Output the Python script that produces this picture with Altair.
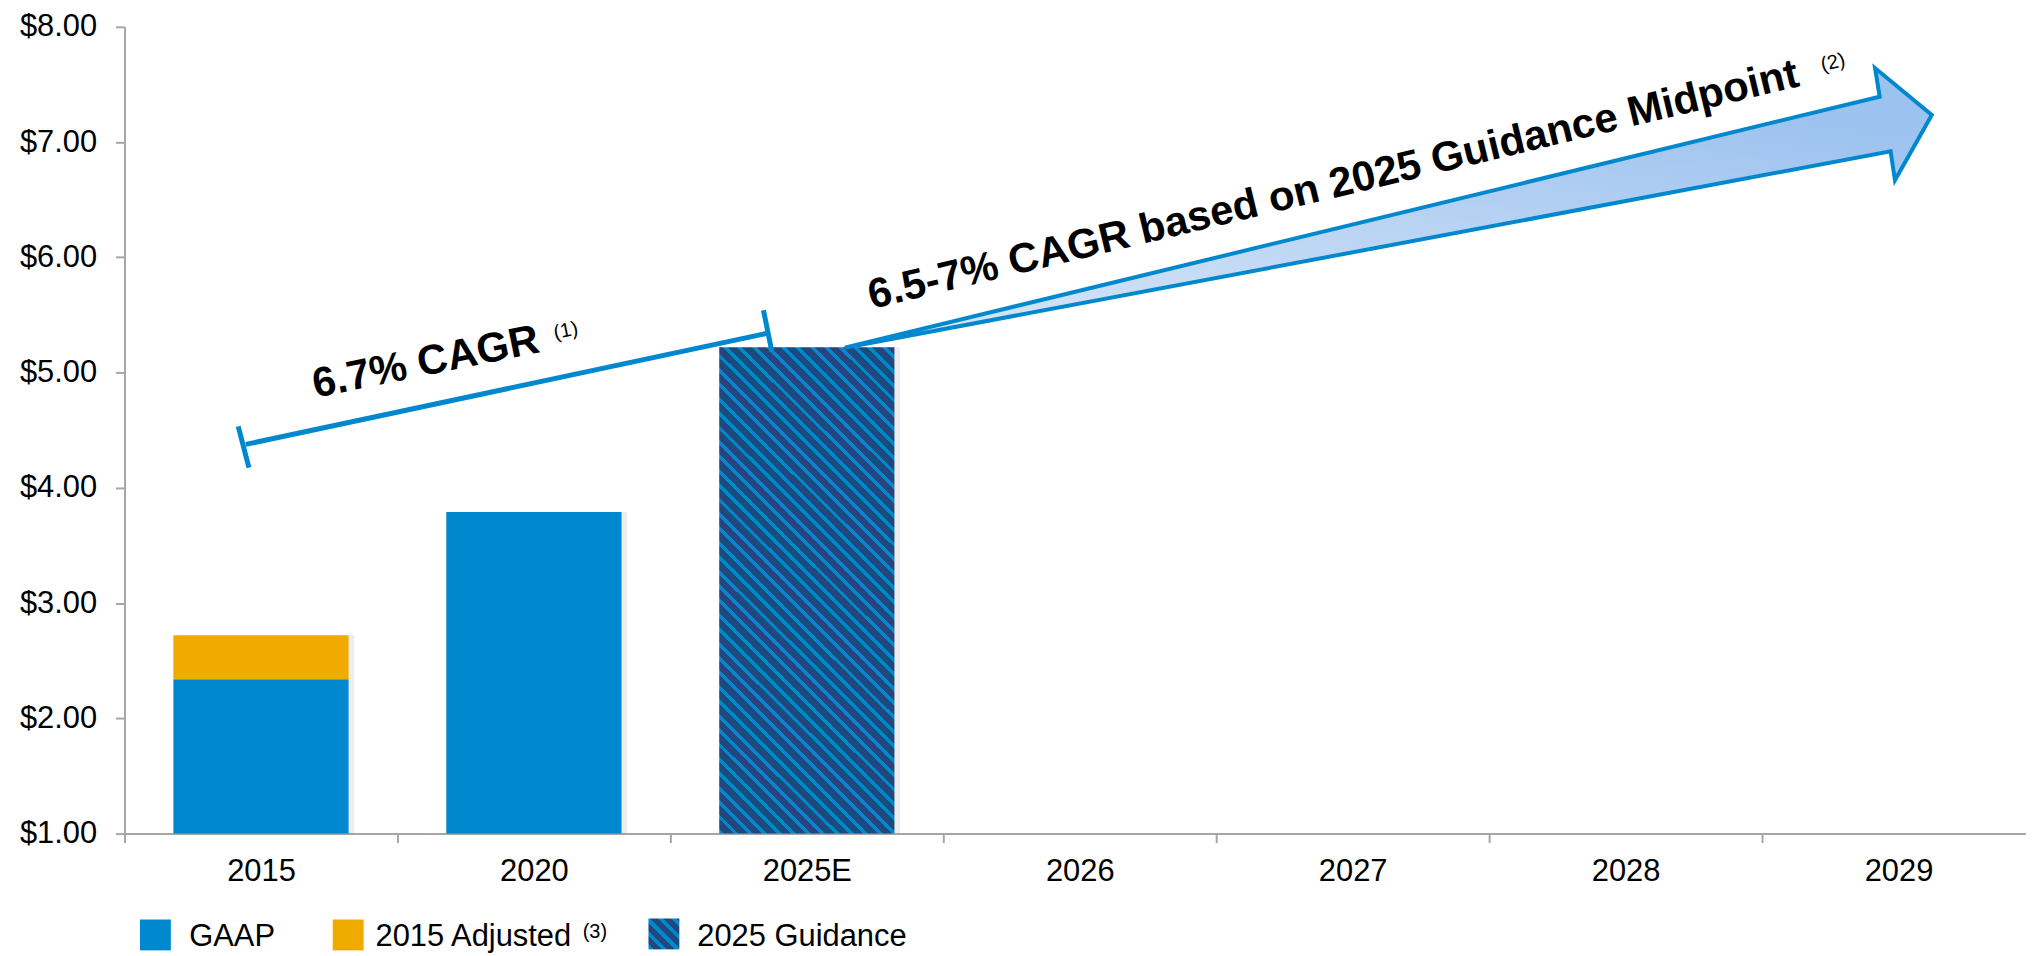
import altair as alt
import pandas as pd

# ---------------- data ----------------
years = ["2015", "2020", "2025E", "2026", "2027", "2028", "2029"]
series_names = ["GAAP", "2015 Adjusted", "2025 Guidance"]
gaap_years = ["2015", "2020"]
gaap_eps = [2.34, 3.79]
adjusted_year = "2015"
adjusted_eps = 2.72
guidance_year = "2025E"
guidance_eps = 5.22
axis_floor = 1.0
y_ticks = [1, 2, 3, 4, 5, 6, 7, 8]

# annotation geometry in data units (u = category index along x, v = $ on y)
bracket_u = [0.4445, 2.351]
bracket_v = [4.377, 5.339]
cap_u = [0.4165, 2.341]
cap_u2 = [0.4558, 2.372]
cap_v = [4.534, 5.541]
cap_v2 = [4.175, 5.181]

arrow_u = [2.639, 6.431, 6.414, 6.622, 6.487, 6.471, 2.639]
arrow_v = [5.216, 7.394, 7.642, 7.235, 6.668, 6.920, 5.216]

big_texts = ["6.7% CAGR", "6.5-7% CAGR based on 2025 Guidance Midpoint"]
big_u = [1.113, 4.440]
big_v = [4.98, 6.520]
big_angle = [348.5, 346.5]
note_texts = ["(1)", "(2)"]
note_u = [1.617, 6.260]
note_v = [5.362, 7.690]

legend_sq_u = [0.1131, 0.8194, 1.9763]
legend_sq_v = [0.1207, 0.1207, 0.1293]
legend_txt = ["GAAP", "2015 Adjusted", "2025 Guidance"]
legend_txt_u = [0.2372, 0.9197, 2.0985]
legend_txt_v = [0.0259, 0.0259, 0.0259]
legend_note = "(3)"
legend_note_u = 1.6788
legend_note_v = 0.0948

# ---------------- styling ----------------
BLUE = "#0088CE"
ORANGE = "#F0AB00"
NAVY = "#1F497D"
GRAY = "#A6A6A6"
FONT = "Liberation Sans"
X_RANGE = [0, 1918]


def hatch(w, h, period=14.5, light_frac=0.34):
    r = w / h
    k = (1 + r) / (1 + r * r)
    total = w + h
    dt = period / total
    stops = []
    t = 0.0
    while t < 1.0:
        b = min(t + dt * light_frac, 1.0)
        c = min(t + dt, 1.0)
        stops += [
            alt.GradientStop(offset=t, color=BLUE),
            alt.GradientStop(offset=b, color=BLUE),
            alt.GradientStop(offset=b, color=NAVY),
            alt.GradientStop(offset=c, color=NAVY),
        ]
        t += dt
    return alt.LinearGradient(gradient="linear", stops=stops,
                              x1=0, y1=1, x2=k * r, y2=1 - k)


y_scale = alt.Scale(domain=[1, 8], nice=False, zero=False)
y_axis = alt.Axis(values=y_ticks, format="$.2f", title=None, grid=False,
                  tickSize=9, tickWidth=2, tickColor=GRAY,
                  domainWidth=2, domainColor=GRAY,
                  labelFont=FONT, labelFontSize=31, labelColor="black",
                  labelPadding=19, labelFlush=False, labelOverlap=False)
u_scale = alt.Scale(domain=[0, 7], range=X_RANGE, nice=False, zero=False)


def ux(field="u"):
    return alt.X(f"{field}:Q", scale=u_scale, axis=None)


def vy(field="v"):
    return alt.Y(f"{field}:Q", scale=y_scale, axis=y_axis)


# ---------------- bars ----------------
bar_rows = []
for yr, val in zip(gaap_years, gaap_eps):
    bar_rows.append({"year": yr, "series": "GAAP", "lo": axis_floor, "hi": val})
bar_rows.append({"year": adjusted_year, "series": "2015 Adjusted",
                 "lo": gaap_eps[gaap_years.index(adjusted_year)], "hi": adjusted_eps})
bars_df = pd.DataFrame(bar_rows)
guid_df = pd.DataFrame([{"year": guidance_year, "series": "2025 Guidance",
                         "lo": axis_floor, "hi": guidance_eps}])

x_enc = alt.X("year:N",
              scale=alt.Scale(domain=years, range=X_RANGE, paddingInner=0, paddingOuter=0),
              axis=alt.Axis(title=None, tickBand="extent", tickSize=9, tickWidth=2,
                            tickColor=GRAY, domainColor=GRAY, domainWidth=2,
                            labelFont=FONT, labelFontSize=31, labelColor="black",
                            labelAngle=0, labelPadding=14, grid=False))
color_scale = alt.Scale(domain=["GAAP", "2015 Adjusted"], range=[BLUE, ORANGE])

# faint shadow behind the bars
shadow_df = pd.concat([bars_df, guid_df], ignore_index=True)
shadow = alt.Chart(shadow_df).mark_bar(width=alt.RelativeBandSize(0.662), xOffset=3,
                                       color="#000000", opacity=0.07).encode(
    x=x_enc,
    y=alt.Y("hi:Q", scale=y_scale, axis=y_axis),
    y2="lo:Q",
)

bars = alt.Chart(bars_df).mark_bar(width=alt.RelativeBandSize(0.642)).encode(
    x=x_enc,
    y=alt.Y("hi:Q", scale=y_scale, axis=y_axis),
    y2="lo:Q",
    color=alt.Color("series:N", scale=color_scale, legend=None),
)
guid_bar = alt.Chart(guid_df).mark_bar(width=alt.RelativeBandSize(0.642),
                                       fill=hatch(176, 489.5)).encode(
    x=x_enc,
    y=alt.Y("hi:Q", scale=y_scale, axis=y_axis),
    y2="lo:Q",
)
main = alt.layer(shadow, bars, guid_bar)

# ---------------- annotations ----------------
bracket_df = pd.DataFrame({"u": [bracket_u[0]] + cap_u, "v": [bracket_v[0]] + cap_v,
                           "u2": [bracket_u[1]] + cap_u2, "v2": [bracket_v[1]] + cap_v2})
bracket = alt.Chart(bracket_df).mark_rule(color=BLUE, strokeWidth=5, strokeCap="butt").encode(
    x=ux(), y=vy(), x2="u2:Q", y2="v2:Q")

arrow_df = pd.DataFrame({"u": arrow_u, "v": arrow_v, "i": list(range(len(arrow_u)))})
arrow_fill = alt.LinearGradient(gradient="linear", x1=0, y1=1, x2=0.6, y2=0,
                                stops=[alt.GradientStop(offset=0, color="#DCE8F8"),
                                       alt.GradientStop(offset=1, color="#9CC2EF")])
arrow = alt.Chart(arrow_df).mark_line(fill=arrow_fill, stroke=BLUE, strokeWidth=4,
                                      strokeJoin="miter", strokeMiterLimit=10).encode(
    x=ux(), y=vy(), order="i:Q")

big_df = pd.DataFrame({"t": big_texts, "u": big_u, "v": big_v, "a": big_angle})
big = alt.Chart(big_df).mark_text(font=FONT, fontSize=42, fontWeight="bold", color="black",
                                  align="center", baseline="alphabetic").encode(
    x=ux(), y=vy(), text="t:N", angle=alt.Angle("a:Q", scale=None))

note_df = pd.DataFrame({"t": note_texts, "u": note_u, "v": note_v, "a": big_angle})
notes = alt.Chart(note_df).mark_text(font=FONT, fontSize=20, color="black",
                                     align="center", baseline="middle").encode(
    x=ux(), y=vy(), text="t:N", angle=alt.Angle("a:Q", scale=None))

# legend
leg_sq_df = pd.DataFrame({"series": series_names[:2], "u": legend_sq_u[:2], "v": legend_sq_v[:2]})
leg_sq = alt.Chart(leg_sq_df).mark_square(size=961, opacity=1, filled=True).encode(
    x=ux(), y=vy(), color=alt.Color("series:N", scale=color_scale, legend=None))
leg_hatch_df = pd.DataFrame({"u": legend_sq_u[2:], "v": legend_sq_v[2:]})
leg_hatch = alt.Chart(leg_hatch_df).mark_square(size=961, opacity=1, filled=True,
                                                fill=hatch(31, 31, period=13.5, light_frac=0.38)).encode(
    x=ux(), y=vy())
leg_txt_df = pd.DataFrame({"t": legend_txt, "u": legend_txt_u, "v": legend_txt_v})
leg_txt = alt.Chart(leg_txt_df).mark_text(font=FONT, fontSize=31, color="black",
                                          align="left", baseline="alphabetic").encode(
    x=ux(), y=vy(), text="t:N")
leg_note_df = pd.DataFrame({"t": [legend_note], "u": [legend_note_u], "v": [legend_note_v]})
leg_note = alt.Chart(leg_note_df).mark_text(font=FONT, fontSize=20, color="black",
                                            align="left", baseline="alphabetic").encode(
    x=ux(), y=vy(), text="t:N")

annotations = alt.layer(bracket, arrow, big, notes, leg_sq, leg_hatch, leg_txt, leg_note)

chart = alt.layer(main, annotations).resolve_scale(x="independent", color="shared").properties(
    width=1909, height=810,
    autosize=alt.AutoSizeParams(type="none"),
    padding={"left": 117, "top": 17, "right": 0, "bottom": 118},
    background="white",
).configure_view(stroke=None)

chart.save("out.html", embed_options={"renderer": "svg", "actions": False})
